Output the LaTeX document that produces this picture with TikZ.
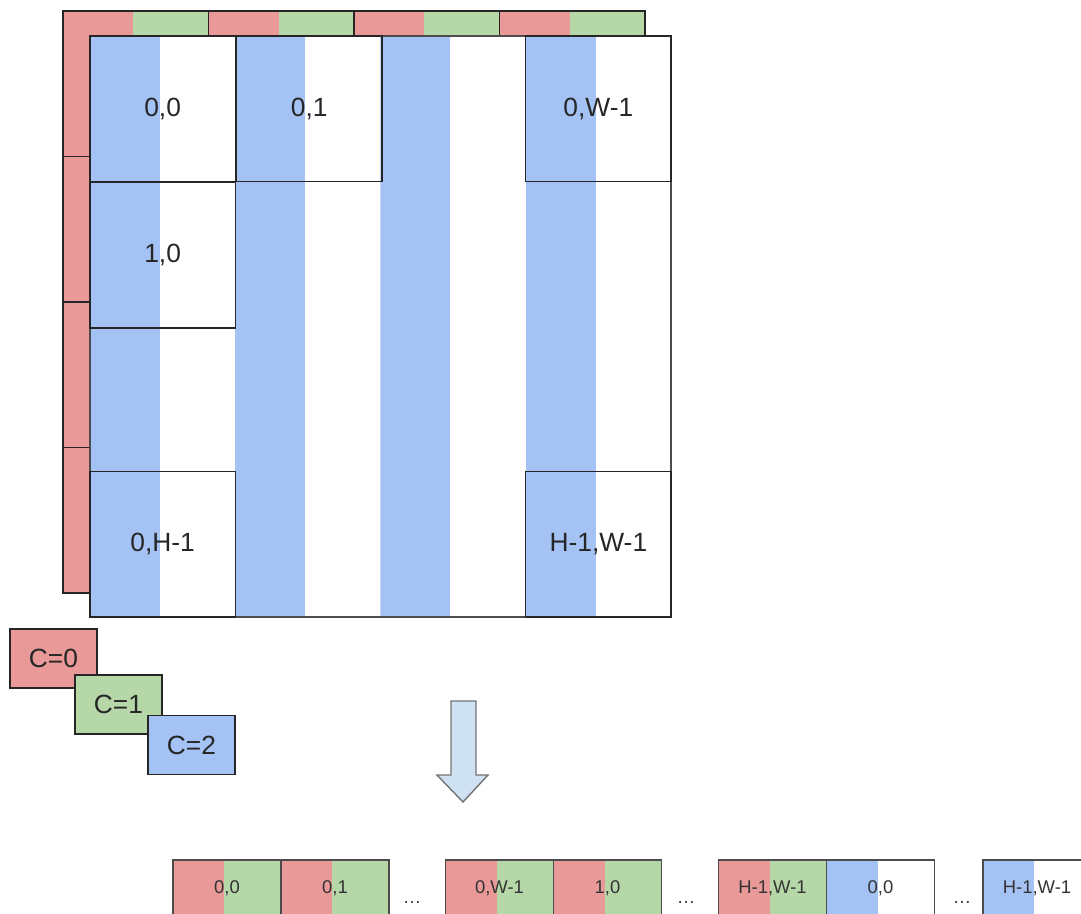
\documentclass[tikz,border=0pt]{standalone}
\usepackage{fontspec}
\setmainfont{Liberation Sans}
\usepackage{xcolor}
\usetikzlibrary{positioning}

\definecolor{chred}{HTML}{EA9999}
\definecolor{chgreen}{HTML}{B6D7A8}
\definecolor{chblue}{HTML}{A4C2F4}
\definecolor{arrowblue}{HTML}{CFE2F3}

\tikzset{
  split/.style 2 args={rectangle, inner sep=0pt, outer sep=0pt, fill=#2,
    path picture={\fill[#1] (path picture bounding box.south west) rectangle ([xshift=-1.5pt]path picture bounding box.north);}},
  backcell/.style={split={chred}{chgreen}, draw=black!85, line width=0.8pt, minimum width=2.91cm, minimum height=2.91cm},
  frontcol/.style={split={chblue}{white}, minimum width=2.905cm, minimum height=11.62cm},
  cellbox/.style={draw=black!85, line width=0.8pt, inner sep=0pt, minimum width=2.905cm, minimum height=2.905cm, text=black!85, font=\fontsize{15}{18}\selectfont},
  slot/.style 2 args={split={#1}{#2}, draw=black!70, line width=0.8pt, minimum width=2.16cm, minimum height=1.12cm, text=black!80, font=\fontsize{10.5}{12}\selectfont},
  legend/.style={draw=black!85, line width=0.8pt, minimum width=1.74cm, minimum height=1.18cm, text=black!85, font=\fontsize{15}{18}\selectfont},
  gap/.style={anchor=base, inner sep=0pt, text=black!80, font=\fontsize{10.5}{12}\selectfont}
}

\begin{document}
\begin{tikzpicture}[x=0.02cm, y=-0.02cm]
\useasboundingbox (0,0) rectangle (1081,913);
\clip (0,0) rectangle (1081,913);

% Channels C=0 and C=1 behind
\foreach \r in {0,...,3}{
  \foreach \c in {0,...,3}{
    \node[backcell] (b\r\c) at ({135.75+145.5*\c}, {83.75+145.5*\r}) {};
  }
}

% Channel C=2 in front
\foreach \c in {0,...,3}{
  \node[frontcol] (f\c) at ({162.6+145.25*\c}, 326.5) {};
}
\node[draw=black!70, line width=0.8pt, inner sep=0pt, minimum width=11.62cm, minimum height=11.62cm] (front) at (380.5, 326.5) {};

\node[cellbox] (p00) at (162.6, 108.6) {0,0};
\node[cellbox] (p01) [right=0pt of p00] {0,1};
\node[cellbox] (p0w) at (598.35, 108.6) {0,W-1};
\node[cellbox] (p10) [below=0pt of p00] {1,0};
\node[cellbox] (p0h) at (162.6, 544.35) {0,H-1};
\node[cellbox] (phw) at (598.35, 544.35) {H-1,W-1};

% Legend
\node[legend, fill=chred] (c0) at (53.5, 658.5) {C=0};
\node[legend, fill=chgreen] (c1) at (118.5, 704.5) {C=1};
\node[legend, fill=chblue] (c2) at (191.5, 745) {C=2};

% Arrow
\draw[fill=arrowblue, draw=black!55, line width=0.8pt, line join=miter]
  (451,701) -- (476,701) -- (476,775) -- (488,775) -- (463,802) -- (437,775) -- (451,775) -- cycle;

% Flattened layout
\node[slot={chred}{chgreen}] (s00) at (227, 888) {0,0};
\node[slot={chred}{chgreen}] (s01) [right=0pt of s00] {0,1};
\node[gap] (d1) at (412, 903) {\dots};
\node[slot={chred}{chgreen}] (s0w) at (499.5, 888) {0,W-1};
\node[slot={chred}{chgreen}] (s10) [right=0pt of s0w] {1,0};
\node[gap] (d2) at (686, 903) {\dots};
\node[slot={chred}{chgreen}] (shw) at (772.5, 888) {H-1,W-1};
\node[slot={chblue}{white}] (t00) [right=0pt of shw] {0,0};
\node[gap] (d3) at (962, 903) {\dots};
\node[slot={chblue}{white}] (thw) at (1037, 888) {H-1,W-1};

\end{tikzpicture}
\end{document}
